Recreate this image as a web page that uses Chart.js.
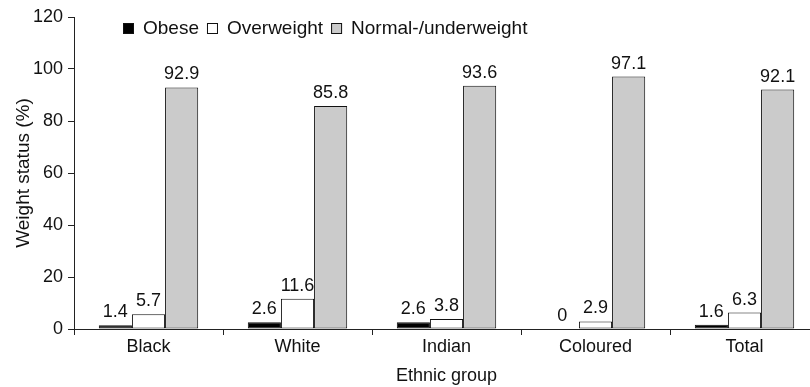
<!DOCTYPE html>
<html lang="en">
<head>
<meta charset="utf-8">
<title>Weight status by ethnic group</title>
<script src="https://cdn.jsdelivr.net/npm/chart.js"></script>
<style>
  html, body { margin: 0; padding: 0; background: #fff; overflow: hidden; }
  #wrap { width: 820px; height: 387px; }
</style>
</head>
<body>
<div id="wrap"><canvas id="myChart"></canvas></div>
<script>
// data
var groups = ["Black", "White", "Indian", "Coloured", "Total"];
var obese = [1.4, 2.6, 2.6, 0, 1.6];
var overweight = [5.7, 11.6, 3.8, 2.9, 6.3];
var normalUnder = [92.9, 85.8, 93.6, 97.1, 92.1];
var seriesNames = ["Obese", "Overweight", "Normal-/underweight"];

var FONT = "Arial, 'Liberation Sans', sans-serif";

// value labels above each bar
var valueLabels = {
  id: "valueLabels",
  afterDatasetsDraw: function (chart) {
    var ctx = chart.ctx;
    ctx.save();
    ctx.font = "18px " + FONT;
    ctx.fillStyle = "#111";
    ctx.textAlign = "center";
    ctx.textBaseline = "alphabetic";
    chart.data.datasets.forEach(function (ds, i) {
      chart.getDatasetMeta(i).data.forEach(function (bar, j) {
        ctx.fillText(String(ds.data[j]), bar.x, bar.y - 8);
      });
    });
    ctx.restore();
  }
};

// legend in one row inside the plot, top left
var rowLegend = {
  id: "rowLegend",
  afterDraw: function (chart) {
    var ctx = chart.ctx;
    ctx.save();
    ctx.font = "19px " + FONT;
    ctx.textBaseline = "middle";
    var x = 123, y = 29;
    chart.data.datasets.forEach(function (ds) {
      ctx.fillStyle = ds.backgroundColor;
      ctx.fillRect(x, y - 6, 11, 11);
      ctx.strokeStyle = "#111";
      ctx.lineWidth = 1;
      ctx.strokeRect(x + 0.5, y - 5.5, 10, 10);
      x += 11 + 9;
      ctx.fillStyle = "#111";
      ctx.fillText(ds.label, x, y);
      x += ctx.measureText(ds.label).width + 8;
    });
    ctx.restore();
  }
};

new Chart("myChart", {
  type: "bar",
  data: {
    labels: groups,
    datasets: [
      { label: seriesNames[0], data: obese, backgroundColor: "#000000" },
      { label: seriesNames[1], data: overweight, backgroundColor: "#ffffff" },
      { label: seriesNames[2], data: normalUnder, backgroundColor: "#cbcbcb" }
    ]
  },
  options: {
    responsive: true,
    maintainAspectRatio: false,
    animation: false,
    datasets: {
      bar: {
        borderColor: "#111",
        borderWidth: 1,
        borderSkipped: false,
        categoryPercentage: 0.667,
        barPercentage: 1
      }
    },
    layout: { padding: { top: 17, right: 1, left: 0, bottom: 0 } },
    plugins: {
      legend: { display: false },
      tooltip: { enabled: false }
    },
    scales: {
      x: {
        afterFit: function (s) { s.height = 58; },
        grid: {
          display: true, drawOnChartArea: false, drawTicks: true,
          tickLength: 6, offset: true, color: "#222", lineWidth: 1
        },
        border: { display: true, color: "#222", width: 1 },
        ticks: { color: "#111", font: { family: FONT, size: 18 }, padding: 1 },
        title: {
          display: true, text: "Ethnic group", color: "#111",
          font: { family: FONT, size: 18 }, padding: 0
        }
      },
      y: {
        min: 0, max: 120,
        afterFit: function (s) { s.width = 74; },
        grid: {
          display: true, drawOnChartArea: false, drawTicks: true,
          tickLength: 6, color: "#222", lineWidth: 1
        },
        border: { display: true, color: "#222", width: 1 },
        ticks: { stepSize: 20, color: "#111", font: { family: FONT, size: 18 }, padding: 5 },
        title: {
          display: true, text: "Weight status (%)", color: "#111",
          font: { family: FONT, size: 19 }, padding: { top: 12, bottom: 0 }
        }
      }
    }
  },
  plugins: [valueLabels, rowLegend]
});
</script>
</body>
</html>
